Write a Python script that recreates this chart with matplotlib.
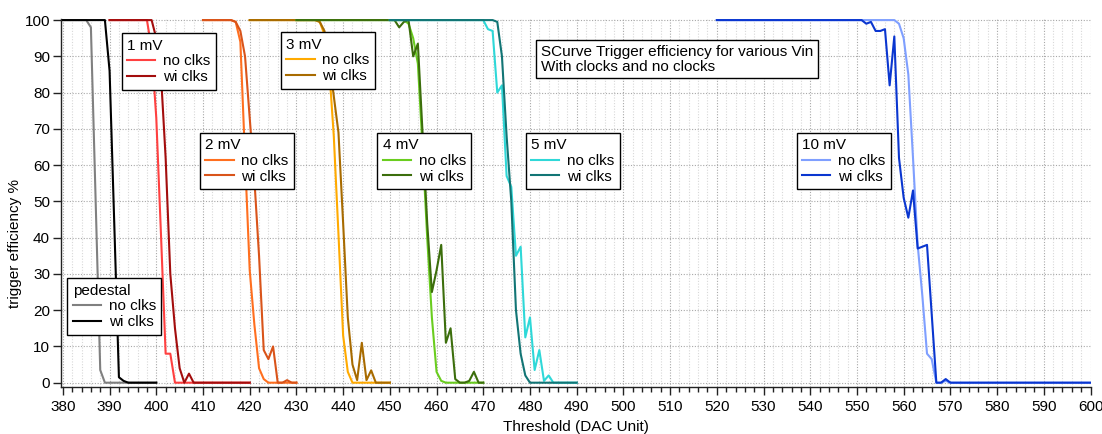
import numpy as np
import matplotlib.pyplot as plt
from matplotlib.legend import Legend
from matplotlib.ticker import MultipleLocator

plt.rcParams['font.family'] = ['Liberation Sans', 'DejaVu Sans']

W, H = 1102, 434

# thresholds (DAC units) for each scan
thr_ped = np.arange(380, 401)
thr_1mv = np.arange(390, 421)
thr_2mv = np.arange(410, 431)
thr_3mv = np.arange(420, 451)
thr_4mv = np.arange(430, 471)
thr_5mv = np.arange(450, 491)
thr_10mv = np.arange(520, 601)

# trigger efficiency %
ped_no = [100]*6 + [98, 51, 3.5] + [0]*12
ped_wi = [100]*10 + [86, 44, 1.5, 0.5] + [0]*7
mv1_no = [100]*9 + [92, 73, 41, 8, 8] + [0]*17
mv1_wi = [100]*10 + [95, 85, 62, 30, 15, 4, 0, 2.5] + [0]*13
mv2_no = [100]*7 + [99.5, 94, 62, 31, 16, 4, 1] + [0]*7
mv2_wi = [100]*7 + [99.5, 97, 90, 73, 56, 35, 9, 6.5, 10, 0, 0, 0.7, 0, 0]
mv3_no = [100]*15 + [99.5, 96, 87, 68, 41, 13, 3] + [0]*9
mv3_wi = [100]*15 + [99.5, 97, 89, 79, 69, 44, 18, 5, 0.7, 11, 0.7, 3.4] + [0]*4
mv4_no = [100]*24 + [99, 95, 88, 65, 40, 18, 3, 0.5] + [0]*9
mv4_wi = [100]*22 + [98, 99.5, 100, 90, 93.5, 69, 44, 25, 31, 38, 11, 15, 1,
                     0, 0, 0.5, 3, 0, 0]
mv5_no = [100]*21 + [97.5, 97, 80, 82, 57, 54, 35, 37.5, 12.5, 18, 3.5, 9, 0.5, 2] + [0]*6
mv5_wi = [100]*23 + [99.5, 90, 68, 50, 20, 8, 2] + [0]*11
mv10_no = [100]*39 + [99, 95, 85, 62, 38, 24, 8, 6.5, 0, 0, 0.5] + [0]*31
mv10_wi = [100]*32 + [99, 99.5, 97, 97, 97.5, 82, 95.5, 62, 51, 45.5, 53, 37,
                      37.5, 38, 19, 0, 0, 1] + [0]*31

fig = plt.figure(figsize=(W/100, H/100), dpi=100)
ax = fig.add_axes([61/W, 1-386.5/H, (1090.5-61)/W, (386.5-19)/H])

curves = [
    ('pedestal', thr_ped, ped_no, ped_wi, '#808080', '#000000', (67.3, 278.3)),
    ('1 mV', thr_1mv, mv1_no, mv1_wi, '#ff4040', '#a30d0d', (121.7, 33.3)),
    ('2 mV', thr_2mv, mv2_no, mv2_wi, '#ff6f1f', '#d9541a', (200, 132.7)),
    ('3 mV', thr_3mv, mv3_no, mv3_wi, '#ffaa00', '#a86b00', (281, 32.3)),
    ('4 mV', thr_4mv, mv4_no, mv4_wi, '#6acd1f', '#3c6e0c', (377.3, 132.7)),
    ('5 mV', thr_5mv, mv5_no, mv5_wi, '#2fd8d8', '#127575', (525.7, 132.7)),
    ('10 mV', thr_10mv, mv10_no, mv10_wi, '#7f9fff', '#0a36d0', (796.7, 132.7)),
]

for title, thr, no, wi, c_no, c_wi, (lx, ly) in curves:
    l_no, = ax.plot(thr, no, color=c_no, lw=1.5, zorder=3)
    l_wi, = ax.plot(thr, wi, color=c_wi, lw=1.5, zorder=3)
    leg = Legend(ax, [l_no, l_wi], ['no clks', 'wi clks'], title=title,
                 loc='upper left', bbox_to_anchor=(lx/W, 1-ly/H),
                 bbox_transform=fig.transFigure, borderaxespad=0,
                 fancybox=False, framealpha=1, edgecolor='black',
                 fontsize=11, title_fontsize=11, alignment='left',
                 handlelength=1.85, handletextpad=0.5, labelspacing=0.12,
                 borderpad=0.35)
    leg.get_frame().set_linewidth(1.0)
    ax.add_artist(leg)

fig.text(540.7/W, 1-45/H, 'SCurve Trigger efficiency for various Vin\nWith clocks and no clocks',
         fontsize=11, ha='left', va='top', linespacing=1.05,
         bbox=dict(boxstyle='square,pad=0.3', facecolor='white', edgecolor='black', linewidth=1.0))

ax.set_xlim(379.6, 600)
ax.set_ylim(-1.05, 100.3)
ax.xaxis.set_major_locator(MultipleLocator(10))
ax.xaxis.set_minor_locator(MultipleLocator(2))
ax.yaxis.set_major_locator(MultipleLocator(10))

ax.grid(which='major', color='#a8a8a8', linestyle=(0, (1, 1.5)), linewidth=0.8, zorder=0)
ax.grid(which='minor', axis='x', color='#d8d8d8', linestyle=(0, (1, 1.5)), linewidth=0.8, zorder=0)
ax.set_axisbelow(True)

for s in ['top', 'right']:
    ax.spines[s].set_visible(False)
for s in ['left', 'bottom']:
    ax.spines[s].set_linewidth(1.0)
    ax.spines[s].set_color('#222222')

ax.tick_params(axis='both', which='major', direction='out', length=5.5, width=1.0,
               labelsize=11, color='#222222')
ax.tick_params(axis='x', which='major', pad=4.5)
ax.tick_params(axis='y', which='major', pad=2.4)
ax.tick_params(axis='x', which='minor', direction='out', length=3.5, width=1.0, color='#222222')

ax.set_xlabel('Threshold (DAC Unit)', fontsize=11, labelpad=4)
ax.set_ylabel('trigger efficiency %', fontsize=11)
ax.yaxis.set_label_coords(-0.038, 0.39)

fig.savefig('out.png', dpi=100)
